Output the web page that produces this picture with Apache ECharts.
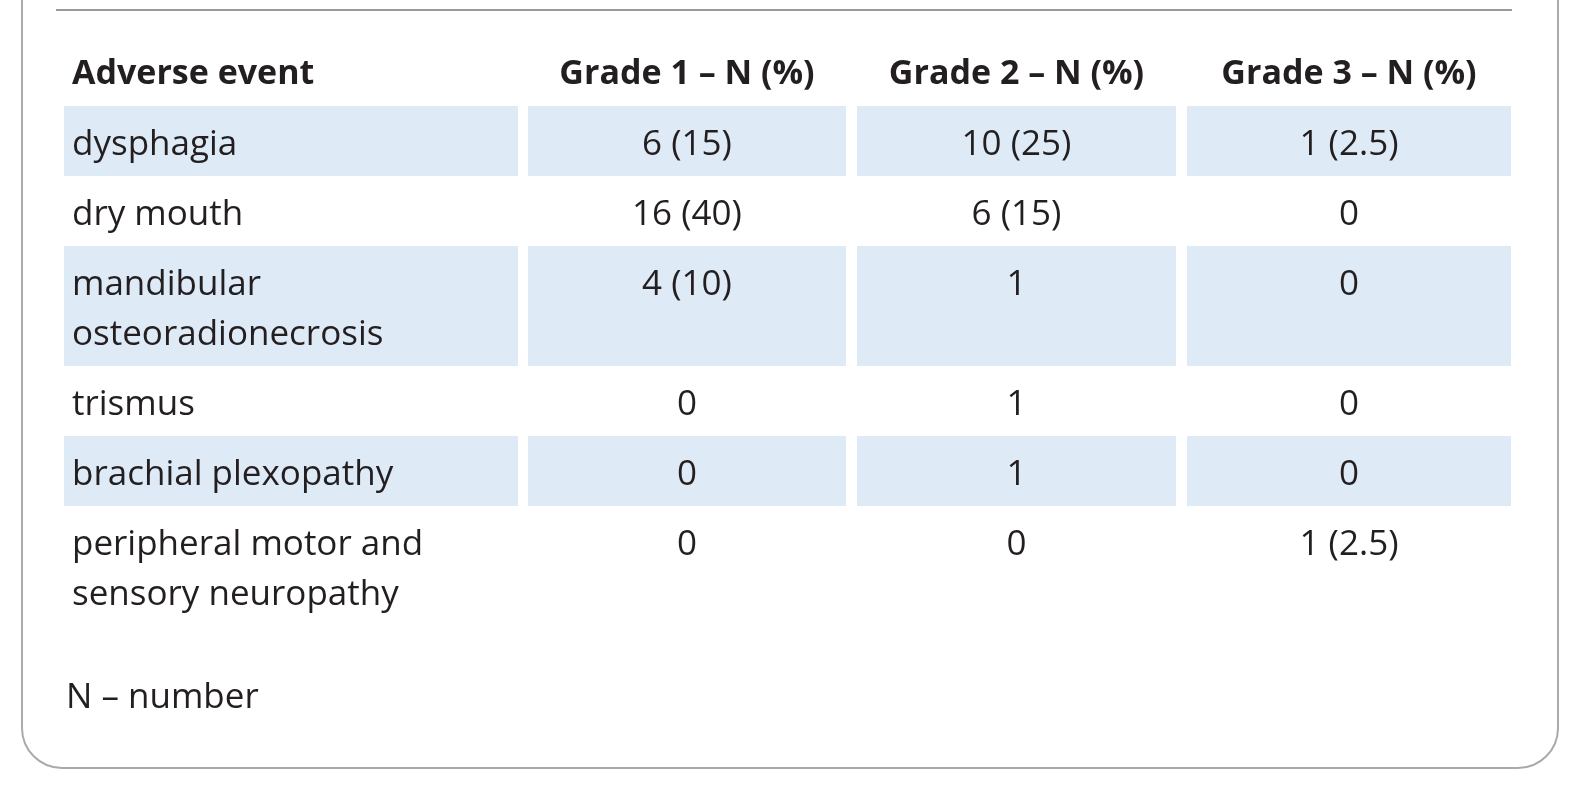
<!DOCTYPE html>
<html>
<head>
<meta charset="utf-8">
<script src="https://cdn.jsdelivr.net/npm/echarts@6/dist/echarts.min.js"></script>
<style>html,body{margin:0;padding:0;background:#fff}#main{width:1575px;height:800px}</style>
</head>
<body>
<div id="main"></div>
<script>
var headers = ['Adverse event', 'Grade 1 \u2013 N (%)', 'Grade 2 \u2013 N (%)', 'Grade 3 \u2013 N (%)'];
var events = ['dysphagia', 'dry mouth', 'mandibular\nosteoradionecrosis', 'trismus', 'brachial plexopathy', 'peripheral motor and\nsensory neuropathy'];
var grade1 = ['6 (15)', '16 (40)', '4 (10)', '0', '0', '0'];
var grade2 = ['10 (25)', '6 (15)', '1', '1', '1', '0'];
var grade3 = ['1 (2.5)', '0', '0', '0', '0', '1 (2.5)'];
var footnote = 'N \u2013 number';

var chart = echarts.init(document.getElementById('main'));

// column edges
var cols = [[64, 518], [528, 846], [857, 1176], [1187, 1511]];
var font = '"Open Sans", sans-serif';
var textColor = '#231f20';
var lineH = 50;
var g = [];

// frame
g.push({ type: 'rect', shape: { x: 22, y: -60, width: 1536, height: 828, r: 40 },
  style: { fill: 'none', stroke: '#aaa', lineWidth: 2 } });
g.push({ type: 'line', shape: { x1: 56, y1: 10, x2: 1512, y2: 10 },
  style: { stroke: '#999', lineWidth: 2 } });

// header
headers.forEach(function (h, c) {
  var x = c === 0 ? cols[0][0] + 8 : (cols[c][0] + cols[c][1]) / 2;
  g.push({ type: 'text', x: x, y: 74, style: { text: h, font: 'bold 34px ' + font,
    fill: textColor, align: c === 0 ? 'left' : 'center', verticalAlign: 'middle' } });
});

var y = 106;
events.forEach(function (ev, i) {
  var lines = ev.split('\n').length;
  var h = 20 + lines * lineH;
  var cells = [ev, grade1[i], grade2[i], grade3[i]];
  cells.forEach(function (t, c) {
    if (i % 2 === 0) {
      g.push({ type: 'rect', shape: { x: cols[c][0], y: y, width: cols[c][1] - cols[c][0], height: h },
        style: { fill: '#dfeaf7' } });
    }
    var x = c === 0 ? cols[0][0] + 8 : (cols[c][0] + cols[c][1]) / 2;
    g.push({ type: 'text', x: x, y: y + 14, z: 2, style: { text: t, font: '35px ' + font,
      lineHeight: lineH, fill: textColor, align: c === 0 ? 'left' : 'center', verticalAlign: 'top' } });
  });
  y += h;
});

g.push({ type: 'text', x: 66, y: 698, style: { text: footnote, font: '35px ' + font,
  fill: textColor, verticalAlign: 'middle' } });

chart.setOption({ animation: false, graphic: { elements: g } });
</script>
</body>
</html>
